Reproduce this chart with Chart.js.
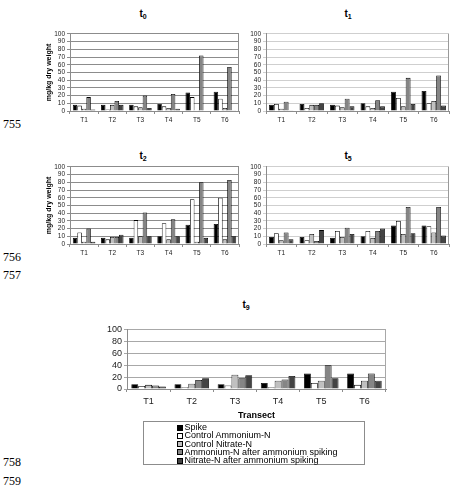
<!DOCTYPE html>
<html>
<head>
<meta charset="utf-8">
<script src="https://cdn.jsdelivr.net/npm/chart.js@4.4.1/dist/chart.umd.min.js"></script>
<style>
    body { margin: 0; width: 450px; height: 490px; background: #fff; position: relative; overflow: hidden;
           font-family: "Liberation Sans", Arial, sans-serif; color: #000; }
    canvas { position: absolute; }
    .panel-title { position: absolute; font-weight: bold; font-size: 10px; line-height: 10px;
                   transform: translate(-50%, -50%); white-space: nowrap; }
    .panel-title sub { font-size: 7px; vertical-align: -2px; }
    .line-no { position: absolute; left: 3px; font-family: "Liberation Serif", "Times New Roman", serif;
               font-size: 12px; line-height: 12px; transform: translateY(-50%); }
    #legend { position: absolute; left: 143px; top: 421px; width: 222px; height: 44px; box-sizing: border-box;
              border: 1px solid #8c8c8c; padding: 1px 0 0 33px; font-size: 9px; }
    .legend-row { height: 8.3px; line-height: 8.3px; white-space: nowrap; }
    .legend-swatch { display: inline-block; width: 6px; height: 6px; box-sizing: border-box;
                     border: 1px solid #000; margin-right: 1.5px; vertical-align: -0.5px; }
</style>
</head>
<body>

<div class="line-no" style="top:124px">755</div>
<div class="line-no" style="top:257px">756</div>
<div class="line-no" style="top:275px">757</div>
<div class="line-no" style="top:462px">758</div>
<div class="line-no" style="top:481px">759</div>

<div class="panel-title" style="left:143px; top:15px">t<sub>0</sub></div>
<div class="panel-title" style="left:348px; top:15px">t<sub>1</sub></div>
<div class="panel-title" style="left:143px; top:157px">t<sub>2</sub></div>
<div class="panel-title" style="left:348px; top:157px">t<sub>5</sub></div>
<div class="panel-title" style="left:246px; top:306px">t<sub>9</sub></div>

<canvas id="chartT0" width="222" height="98" style="left:20px; top:28px"></canvas>
<canvas id="chartT1" width="218" height="98" style="left:232px; top:28px"></canvas>
<canvas id="chartT2" width="222" height="98" style="left:20px; top:161px"></canvas>
<canvas id="chartT5" width="218" height="98" style="left:232px; top:161px"></canvas>
<canvas id="chartT9" width="300" height="100" style="left:90px; top:322px"></canvas>

<div id="legend"></div>

<script>
const transects = ['T1', 'T2', 'T3', 'T4', 'T5', 'T6'];
const seriesNames = ['Spike', 'Control Ammonium-N', 'Control Nitrate-N',
                     'Ammonium-N after ammonium spiking', 'Nitrate-N after ammonium spiking'];
const seriesColors = ['#000000', '#ffffff', '#c0c0c0', '#858585', '#444444'];

// one row per series, same order as seriesNames (mg/kg dry weight)
const t0Values = [
    [8, 8, 8, 9, 24, 25],
    [7, 2, 6, 6, 18, 16],
    [3, 8, 5, 4, 1, 4],
    [18, 13, 20, 22, 72, 57],
    [2, 8, 4, 3, 0, 1]
];
const t1Values = [
    [8, 9, 8, 10, 25, 26],
    [9, 4, 7, 6, 17, 10],
    [3, 8, 5, 4, 6, 13],
    [12, 8, 16, 14, 43, 46],
    [1, 10, 6, 6, 9, 7]
];
const t2Values = [
    [8, 8, 8, 10, 25, 26],
    [15, 6, 31, 27, 58, 60],
    [3, 9, 10, 6, 3, 6],
    [20, 9, 41, 32, 80, 83],
    [3, 12, 10, 10, 8, 10]
];
const t5Values = [
    [9, 9, 8, 10, 24, 24],
    [14, 5, 17, 17, 30, 23],
    [5, 13, 9, 8, 13, 15],
    [15, 4, 21, 17, 48, 48],
    [6, 18, 13, 20, 14, 11]
];
const t9Values = [
    [8, 8, 8, 10, 26, 26],
    [5, 3, 6, 3, 10, 7],
    [7, 9, 24, 14, 14, 14],
    [6, 15, 18, 16, 40, 26],
    [4, 18, 23, 22, 18, 14]
];

// right-hand frame line of each plot
const frameLine = {
    id: 'frameLine',
    afterDraw(chart) {
        const a = chart.chartArea, ctx = chart.ctx;
        ctx.save();
        ctx.strokeStyle = chart.options.frameColor || '#8c8c8c';
        ctx.lineWidth = 1;
        ctx.beginPath();
        ctx.moveTo(Math.round(a.right) - 0.5, a.top);
        ctx.lineTo(Math.round(a.right) - 0.5, a.bottom);
        ctx.stroke();
        ctx.restore();
    }
};

function drawPanel(id, values, g) {
    new Chart(document.getElementById(id), {
        type: 'bar',
        data: {
            labels: transects,
            datasets: seriesNames.map((name, i) => ({
                label: name,
                data: values[i],
                backgroundColor: seriesColors[i],
                borderColor: '#000',
                borderWidth: 0.8,
                categoryPercentage: 0.8,
                barPercentage: 1.0
            }))
        },
        options: {
            responsive: false,
            animation: false,
            frameColor: g.frameColor,
            layout: { padding: { top: g.padTop, right: g.padRight, left: 0, bottom: 0 } },
            plugins: { legend: { display: false }, tooltip: { enabled: false } },
            scales: {
                x: {
                    grid: { drawOnChartArea: false, tickLength: 3, color: '#8c8c8c' },
                    border: { color: '#8c8c8c' },
                    ticks: { font: { size: g.tickSize, family: 'Liberation Sans' }, color: '#222', padding: g.xPad },
                    title: g.xTitle ? { display: true, text: g.xTitle, color: '#000',
                                        font: { size: 9, weight: 'bold', family: 'Liberation Sans' },
                                        padding: { top: 0, bottom: 1 } } : { display: false },
                    afterFit: s => { s.height = g.xAxisH; }
                },
                y: {
                    min: 0, max: 100,
                    ticks: { stepSize: g.step, autoSkip: false,
                             font: { size: g.tickSize, family: 'Liberation Sans' }, color: '#222', padding: 2 },
                    grid: { color: g.gridColor, tickLength: 3 },
                    border: { color: '#8c8c8c' },
                    title: g.yTitle ? { display: true, text: g.yTitle, color: '#000',
                                        font: { size: 7, weight: 'bold', family: 'Liberation Sans' },
                                        padding: { top: 25, bottom: 0 } } : { display: false },
                    afterFit: s => { s.width = g.yAxisW; }
                }
            }
        },
        plugins: [frameLine]
    });
}

const leftPanel = { padTop: 5, padRight: 3, xAxisH: 15, yAxisW: 50, tickSize: 6.5, xPad: 2, step: 10,
                    gridColor: '#8c8c8c', frameColor: '#8c8c8c', yTitle: 'mg/kg dry weight' };
const rightPanel = { padTop: 5, padRight: 1, xAxisH: 15, yAxisW: 34, tickSize: 6.5, xPad: 2, step: 10,
                     gridColor: '#cfcfcf', frameColor: '#9a9a9a' };

drawPanel('chartT0', t0Values, leftPanel);
drawPanel('chartT1', t1Values, rightPanel);
drawPanel('chartT2', t2Values, leftPanel);
drawPanel('chartT5', t5Values, rightPanel);
drawPanel('chartT9', t9Values, { padTop: 6, padRight: 4, xAxisH: 33, yAxisW: 37, tickSize: 9, xPad: 4, step: 20,
                                 gridColor: '#a8a8a8', frameColor: '#a8a8a8', xTitle: 'Transect' });

// legend box below t9
const legend = document.getElementById('legend');
seriesNames.forEach((name, i) => {
    legend.innerHTML += `<div class="legend-row"><span class="legend-swatch" style="background:${seriesColors[i]}"></span>${name}</div>`;
});
</script>
</body>
</html>
